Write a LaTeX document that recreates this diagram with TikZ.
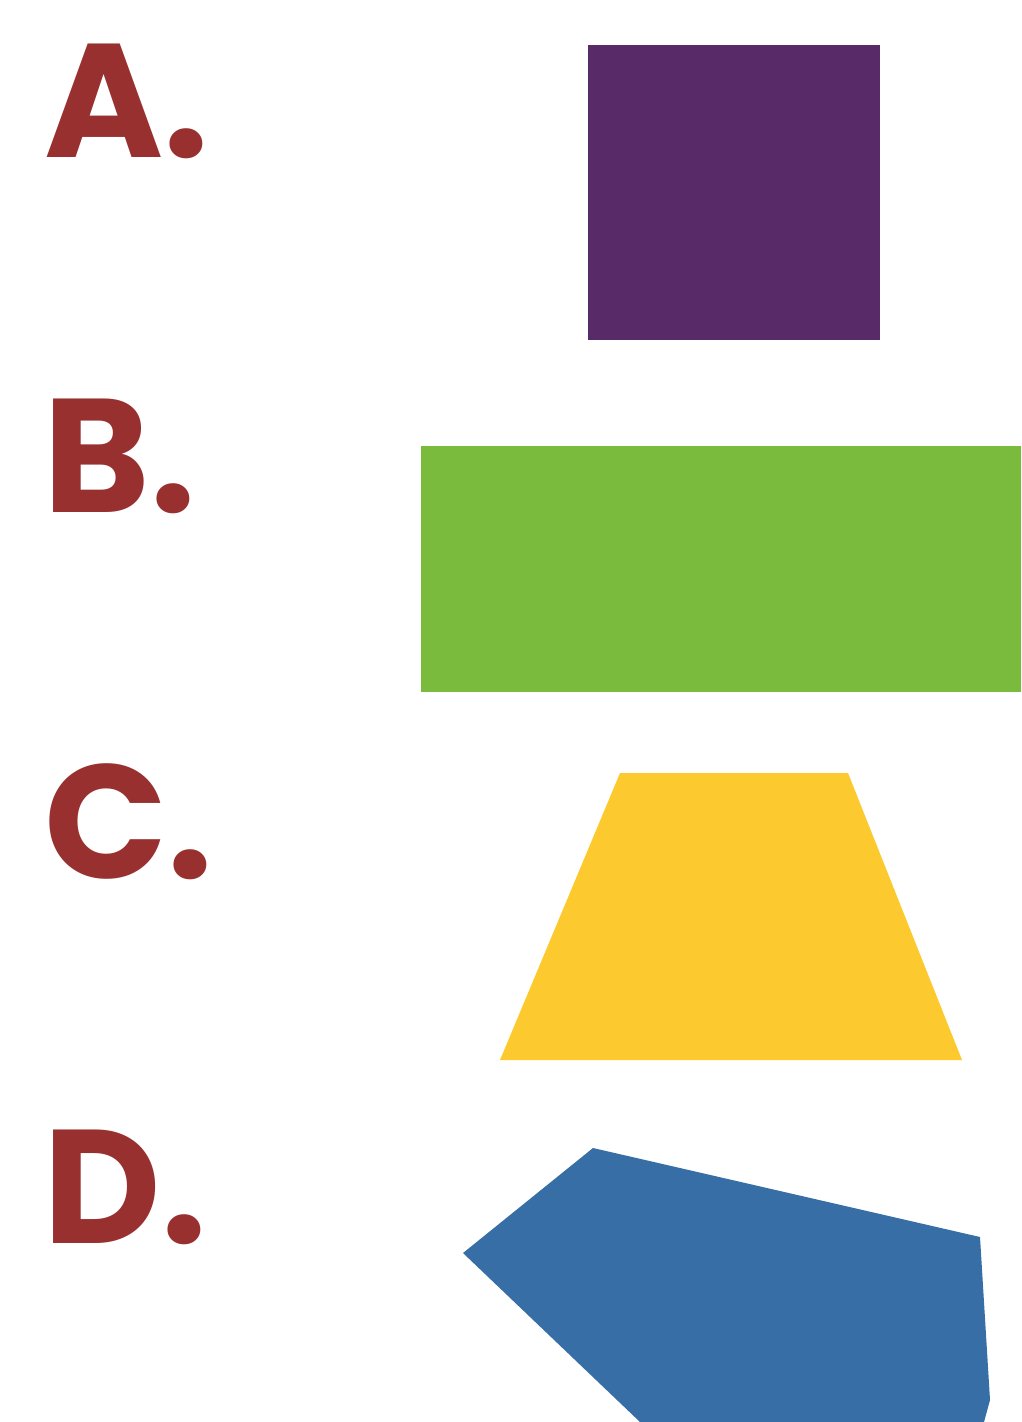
\documentclass[tikz,border=0pt]{standalone}
\usepackage{fontspec}
\setmainfont{Poppins}
\usetikzlibrary{positioning}
\definecolor{lettercol}{RGB}{152,48,48}
\definecolor{squarecol}{RGB}{88,42,104}
\definecolor{rectcol}{RGB}{122,186,60}
\definecolor{trapcol}{RGB}{252,202,46}
\definecolor{pentcol}{RGB}{56,110,166}
\tikzset{
  shape label/.style={anchor=base west,inner sep=0pt,text=lettercol,font=\fontsize{46}{46}\selectfont\bfseries},
  shape fill/.style={draw=none}
}
\begin{document}
\begin{tikzpicture}[x=0.01cm,y=-0.01cm]
  \useasboundingbox (0,0) rectangle (1021,1422);

  % labels
  \node[shape label] (la) at (44,158)  {A.};
  \node[shape label] (lb) at (43,512)  {B.};
  \node[shape label] (lc) at (44,878)  {C.};
  \node[shape label] (ld) at (43,1243) {D.};

  % shapes
  \fill[squarecol] (588,45) rectangle (880,340);
  \fill[rectcol]   (421,446) rectangle (1021,692);
  \fill[trapcol]   (620,773) -- (848,773) -- (962,1060) -- (500,1060) -- cycle;
  \fill[pentcol]   (463,1253) -- (593,1148) -- (980,1237) -- (990,1400)
                   -- (984,1422) -- (640,1422) -- cycle;
\end{tikzpicture}
\end{document}
